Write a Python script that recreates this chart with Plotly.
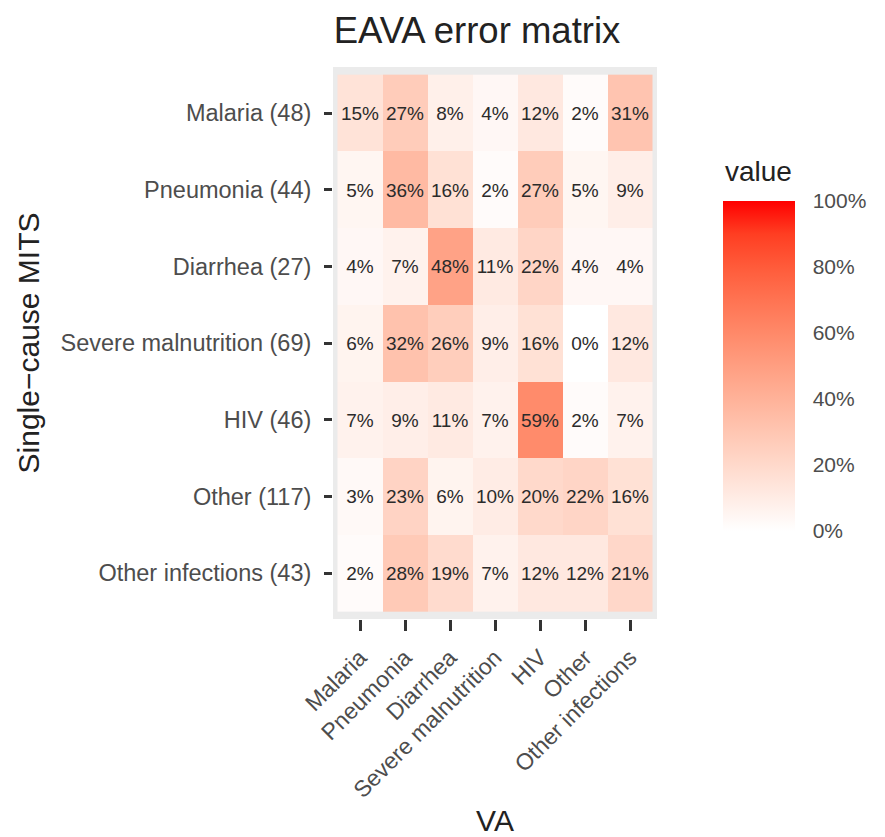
import plotly.graph_objects as go

# Cause-of-death categories
va_causes = ["Malaria", "Pneumonia", "Diarrhea", "Severe malnutrition", "HIV", "Other", "Other infections"]
mits_labels = ["Malaria (48)", "Pneumonia (44)", "Diarrhea (27)", "Severe malnutrition (69)",
               "HIV (46)", "Other (117)", "Other infections (43)"]

# Percent of each MITS cause assigned to each VA cause
malaria_row = [15, 27, 8, 4, 12, 2, 31]
pneumonia_row = [5, 36, 16, 2, 27, 5, 9]
diarrhea_row = [4, 7, 48, 11, 22, 4, 4]
malnutrition_row = [6, 32, 26, 9, 16, 0, 12]
hiv_row = [7, 9, 11, 7, 59, 2, 7]
other_row = [3, 23, 6, 10, 20, 22, 16]
other_inf_row = [2, 28, 19, 7, 12, 12, 21]

z = [malaria_row, pneumonia_row, diarrhea_row, malnutrition_row, hiv_row, other_row, other_inf_row]
cell_text = [[f"{v}%" for v in row] for row in z]

colorbar_ticks = [0, 20, 40, 60, 80, 100]
colorbar_labels = ["0%", "20%", "40%", "60%", "80%", "100%"]

FONT = "Liberation Sans, Arial, sans-serif"


def lab_to_rgb(L, a, b):
    # CIE Lab (D65) -> sRGB hex
    fy = (L + 16) / 116
    fx = fy + a / 500
    fz = fy - b / 200

    def finv(t):
        return t ** 3 if t ** 3 > 0.008856 else (t - 16 / 116) / 7.787

    X = 0.95047 * finv(fx)
    Y = 1.0 * finv(fy)
    Z = 1.08883 * finv(fz)
    r = 3.2406 * X - 1.5372 * Y - 0.4986 * Z
    g = -0.9689 * X + 1.8758 * Y + 0.0415 * Z
    bb = 0.0557 * X - 0.2040 * Y + 1.0570 * Z

    def gam(c):
        c = max(0.0, min(1.0, c))
        return 1.055 * c ** (1 / 2.4) - 0.055 if c > 0.0031308 else 12.92 * c

    return "#%02x%02x%02x" % tuple(round(gam(c) * 255) for c in (r, g, bb))


# white -> red gradient interpolated in Lab space
white_lab = (100.0, 0.0, 0.0)
red_lab = (53.24, 80.09, 67.20)
n_stops = 11
colorscale = []
for i in range(n_stops):
    t = i / (n_stops - 1)
    L = white_lab[0] + (red_lab[0] - white_lab[0]) * t
    a = white_lab[1] + (red_lab[1] - white_lab[1]) * t
    b = white_lab[2] + (red_lab[2] - white_lab[2]) * t
    colorscale.append([t, lab_to_rgb(L, a, b)])

# plot area in pixels
W, H = 885, 837
L_M, R_M, T_M, B_M = 333, 228, 67, 218
plot_h = H - T_M - B_M
plot_w = W - L_M - R_M
CB_LEFT, CB_TOP = 723, 201

fig = go.Figure(
    go.Heatmap(
        z=z,
        x=va_causes,
        y=mits_labels,
        text=cell_text,
        texttemplate="%{text}",
        textfont=dict(family=FONT, size=19, color="#2b2b2b"),
        colorscale=colorscale,
        zmin=0,
        zmax=100,
        xgap=0,
        ygap=0,
        colorbar=dict(
            tickvals=colorbar_ticks,
            ticktext=colorbar_labels,
            ticks="outside",
            ticklen=14,
            tickcolor="white",
            tickwidth=1,
            tickfont=dict(family=FONT, size=21, color="#4d4d4d"),
            thickness=72,
            thicknessmode="pixels",
            len=330,
            lenmode="pixels",
            x=(CB_LEFT - L_M) / plot_w,
            xanchor="left",
            xpad=0,
            ypad=0,
            y=(H - B_M - CB_TOP) / plot_h,
            yanchor="top",
            outlinewidth=0,
        ),
    )
)

fig.add_annotation(
    text="value", xref="paper", yref="paper",
    x=(CB_LEFT - L_M) / plot_w, y=(H - B_M - 172) / plot_h,
    xanchor="left", yanchor="middle", showarrow=False,
    font=dict(family=FONT, size=28, color="#222222"),
)

fig.update_layout(
    width=W,
    height=H,
    margin=dict(l=L_M, r=R_M, t=T_M, b=B_M, autoexpand=False),
    paper_bgcolor="white",
    plot_bgcolor="#ebebeb",
    font=dict(family=FONT, color="#4d4d4d"),
    title=dict(text="EAVA error matrix", x=0.539, xanchor="center", y=0.964, yanchor="middle",
               font=dict(size=36.5, color="#222222")),
    xaxis=dict(
        range=[-0.6, 6.6],
        tickangle=-45,
        ticks="outside",
        ticklen=11,
        tickwidth=3,
        tickcolor="#333333",
        tickfont=dict(size=23, color="#4d4d4d"),
        ticklabelstandoff=4,
        showgrid=False,
        zeroline=False,
        title=dict(text="VA", font=dict(size=30, color="#222222"), standoff=12),
    ),
    yaxis=dict(
        range=[6.6, -0.6],
        ticks="outside",
        ticklen=8,
        tickwidth=3,
        tickcolor="#333333",
        tickfont=dict(size=23.5, color="#4d4d4d"),
        ticklabelstandoff=8,
        showgrid=False,
        zeroline=False,
        title=dict(text="Single\u2212cause MITS", font=dict(size=30, color="#222222"), standoff=12),
    ),
)

fig.write_html("out.html")
